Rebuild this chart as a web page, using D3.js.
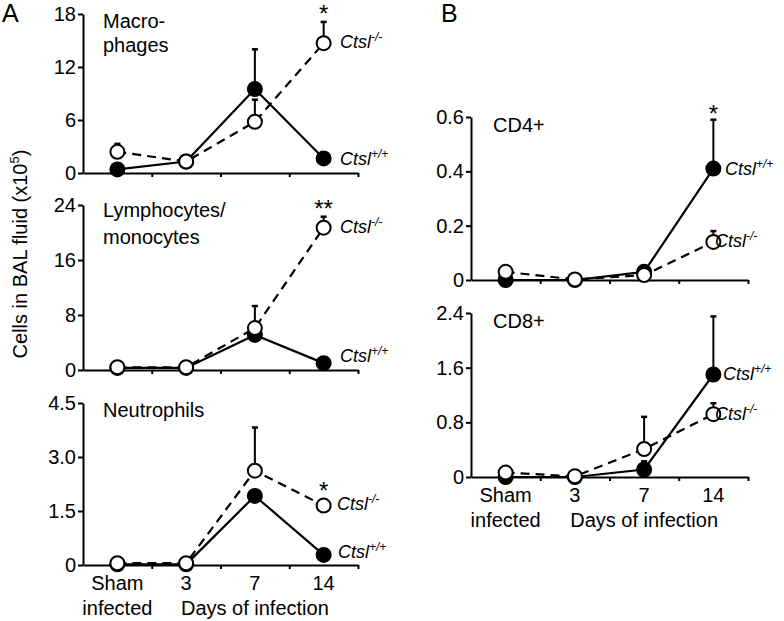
<!DOCTYPE html>
<html><head><meta charset="utf-8">
<script src="https://cdn.jsdelivr.net/npm/d3@7"></script>
<style>body{margin:0;background:#fff}svg text{font-family:"Liberation Sans",Arial,sans-serif;fill:#000}</style>
</head><body>
<svg id="c" width="784" height="621"></svg>
<script>
// ---- data ----
const categories = ["Sham", "3", "7", "14"];
const macroWT = [0.4, 1.3, 9.5, 1.65];
const macroWTErr = [0, 0, 4.5, 0];
const macroKO = [2.4, 1.3, 5.8, 14.7];
const macroKOErr = [0.9, 0, 2.5, 2.4];
const lymphWT = [0.3, 0.3, 5.1, 1.0];
const lymphWTErr = [0, 0, 0, 0];
const lymphKO = [0.4, 0.4, 6.1, 20.7];
const lymphKOErr = [0, 0, 3.2, 1.6];
const neutWT = [0.02, 0.02, 1.92, 0.28];
const neutWTErr = [0, 0, 0, 0];
const neutKO = [0.05, 0.05, 2.62, 1.65];
const neutKOErr = [0, 0, 1.2, 0.12];
const cd4WT = [0, 0, 0.03, 0.41];
const cd4WTErr = [0, 0, 0.015, 0.18];
const cd4KO = [0.03, 0.002, 0.018, 0.14];
const cd4KOErr = [0.015, 0, 0, 0.04];
const cd8WT = [0, 0, 0.11, 1.5];
const cd8WTErr = [0, 0, 0.12, 0.85];
const cd8KO = [0.065, 0.01, 0.41, 0.92];
const cd8KOErr = [0.08, 0, 0.47, 0.16];
const macroTicks = [0, 6, 12, 18], macroTickLabels = ["0", "6", "12", "18"];
const lymphTicks = [0, 8, 16, 24], lymphTickLabels = ["0", "8", "16", "24"];
const neutTicks = [0, 1.5, 3.0, 4.5], neutTickLabels = ["0", "1.5", "3.0", "4.5"];
const cd4Ticks = [0, 0.2, 0.4, 0.6], cd4TickLabels = ["0", "0.2", "0.4", "0.6"];
const cd8Ticks = [0, 0.8, 1.6, 2.4], cd8TickLabels = ["0", "0.8", "1.6", "2.4"];

const svg = d3.select("#c");
const FS = 20;

const panels = [
  {x0:83, x1:358, top:14, bot:173, wt:macroWT, wtE:macroWTErr, ko:macroKO, koE:macroKOErr, ticks:macroTicks, tl:macroTickLabels,
   title:["Macro-","phages"], tx:103, ty:[28,52], ko_lab:[340,48], wt_lab:[340,165], star:"*", starY:22, xlabels:false},
  {x0:83, x1:358, top:205, bot:370, wt:lymphWT, wtE:lymphWTErr, ko:lymphKO, koE:lymphKOErr, ticks:lymphTicks, tl:lymphTickLabels,
   title:["Lymphocytes/","monocytes"], tx:103, ty:[217,244], ko_lab:[340,233], wt_lab:[340,362], star:"**", starY:217, xlabels:false},
  {x0:83, x1:358, top:403, bot:565, wt:neutWT, wtE:neutWTErr, ko:neutKO, koE:neutKOErr, ticks:neutTicks, tl:neutTickLabels,
   title:["Neutrophils"], tx:103, ty:[417], ko_lab:[337,510], wt_lab:[338,558], star:"*", starY:499, xlabels:true},
  {x0:471, x1:748, top:117, bot:280, wt:cd4WT, wtE:cd4WTErr, ko:cd4KO, koE:cd4KOErr, ticks:cd4Ticks, tl:cd4TickLabels,
   title:["CD4+"], tx:493, ty:[132], ko_lab:[715,247], wt_lab:[725,175], star:"*", starY:122, xlabels:false},
  {x0:471, x1:748, top:313, bot:477, wt:cd8WT, wtE:cd8WTErr, ko:cd8KO, koE:cd8KOErr, ticks:cd8Ticks, tl:cd8TickLabels,
   title:["CD8+"], tx:493, ty:[328], ko_lab:[715,420], wt_lab:[723,380], star:null, xlabels:true}
];

function ctsl(x, y, sup){
  const t = svg.append("text").attr("x", x).attr("y", y).attr("font-size", 18).attr("font-style","italic");
  t.append("tspan").text("Ctsl");
  t.append("tspan").attr("font-size", 12).attr("dy", -7).text(sup);
}

panels.forEach(p => {
  const yMax = p.ticks[p.ticks.length-1];
  const y = d3.scaleLinear().domain([0, yMax]).range([p.bot, p.top]);
  const x = d3.scaleBand().domain(categories).range([p.x0, p.x1]);
  const xb = d3.scaleLinear().domain([0, categories.length]).range([p.x0, p.x1]);
  const cx = c => x(c) + x.bandwidth()/2;

  // y axis
  const ya = svg.append("g").attr("transform", `translate(${p.x0},0)`)
    .call(d3.axisLeft(y).tickValues(p.ticks).tickSize(5).tickSizeOuter(0).tickPadding(2)
      .tickFormat((d,i) => p.tl[i]));
  ya.selectAll("path, line").attr("stroke", "#000").attr("stroke-width", 2);
  ya.selectAll("text").attr("font-size", FS).attr("font-family", '"Liberation Sans",Arial,sans-serif').attr("fill","#000");

  // x axis
  const xa = svg.append("g").attr("transform", `translate(0,${p.bot})`)
    .call(d3.axisBottom(xb).tickValues([1,2,3,4]).tickSize(4).tickSizeOuter(0).tickFormat(""));
  xa.selectAll("path, line").attr("stroke", "#000").attr("stroke-width", 2);

  const wtPts = categories.map((c,i) => ({c, v:p.wt[i], e:p.wtE[i]}));
  const koPts = categories.map((c,i) => ({c, v:p.ko[i], e:p.koE[i]}));
  const line = d3.line().x(d => cx(d.c)).y(d => y(d.v));

  svg.append("path").datum(koPts).attr("d", line).attr("fill","none").attr("stroke","#000")
    .attr("stroke-width", 2.2).attr("stroke-dasharray", "9,6");
  svg.append("path").datum(wtPts).attr("d", line).attr("fill","none").attr("stroke","#000").attr("stroke-width", 2.2);

  [wtPts, koPts].forEach(pts => {
    const eb = pts.filter(d => d.e > 0);
    svg.selectAll(null).data(eb).enter().append("line")
      .attr("x1", d => cx(d.c)).attr("x2", d => cx(d.c))
      .attr("y1", d => y(d.v)).attr("y2", d => y(d.v + d.e))
      .attr("stroke","#000").attr("stroke-width", 2);
    svg.selectAll(null).data(eb).enter().append("line")
      .attr("x1", d => cx(d.c) - 3).attr("x2", d => cx(d.c) + 3)
      .attr("y1", d => y(d.v + d.e)).attr("y2", d => y(d.v + d.e))
      .attr("stroke","#000").attr("stroke-width", 2.5);
  });

  svg.selectAll(null).data(wtPts).enter().append("circle")
    .attr("cx", d => cx(d.c)).attr("cy", d => y(d.v)).attr("r", 8).attr("fill", "#000");
  svg.selectAll(null).data(koPts).enter().append("circle")
    .attr("cx", d => cx(d.c)).attr("cy", d => y(d.v)).attr("r", 7).attr("fill", "#fff")
    .attr("stroke","#000").attr("stroke-width", 2);

  // titles
  p.title.forEach((t,i) => svg.append("text").attr("x", p.tx).attr("y", p.ty[i]).attr("font-size", FS).text(t));
  ctsl(p.ko_lab[0], p.ko_lab[1], "-/-");
  ctsl(p.wt_lab[0], p.wt_lab[1], "+/+");
  if (p.star) svg.append("text").attr("x", cx("14")).attr("y", p.starY).attr("text-anchor","middle")
    .attr("font-size", 24).text(p.star);

  if (p.xlabels) {
    categories.forEach(c => {
      svg.append("text").attr("x", cx(c)).attr("y", p.bot + 25).attr("text-anchor","middle")
        .attr("font-size", FS).text(c);
    });
    svg.append("text").attr("x", cx("Sham")).attr("y", p.bot + 50).attr("text-anchor","middle")
      .attr("font-size", FS).text("infected");
    svg.append("text").attr("x", (cx("3") + cx("14"))/2).attr("y", p.bot + 50).attr("text-anchor","middle")
      .attr("font-size", FS).text("Days of infection");
  }
});

// y title
const yt = svg.append("text").attr("transform", "translate(27,254) rotate(-90)").attr("text-anchor","middle").attr("font-size", FS);
yt.append("tspan").text("Cells in BAL fluid (x10");
yt.append("tspan").attr("font-size", 13).attr("dy", -8).text("5");
yt.append("tspan").attr("dy", 8).text(")");

// panel letters
svg.append("text").attr("x", 2).attr("y", 22).attr("font-size", 25).text("A");
svg.append("text").attr("x", 441).attr("y", 22).attr("font-size", 25).text("B");
</script>
</body></html>
